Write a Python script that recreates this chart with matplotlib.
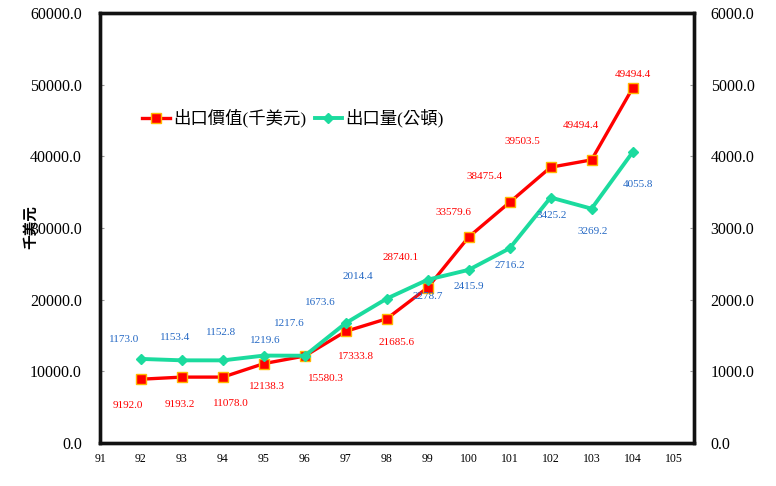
import numpy as np
import matplotlib
matplotlib.use('Agg')
import matplotlib.pyplot as plt

plt.rcParams['font.family'] = ['Liberation Serif', 'Noto Sans CJK TC']

years = [92, 93, 94, 95, 96, 97, 98, 99, 100, 101, 102, 103, 104]

# export value (thousand USD), as drawn
value = [8900, 9192.0, 9193.2, 11078.0, 12138.3, 15580.3, 17333.8,
         21685.6, 28740.1, 33579.6, 38475.4, 39503.5, 49494.4]
# labels as they stand in the picture
value_lab = ['9192.0', '9193.2', '11078.0', '12138.3', '15580.3', '17333.8',
             '21685.6', '28740.1', '33579.6', '38475.4', '39503.5',
             '49494.4', '49494.4']

# export volume (tonnes)
volume = [1173.0, 1153.4, 1152.8, 1219.6, 1217.6, 1673.6, 2014.4,
          2278.7, 2415.9, 2716.2, 3425.2, 3269.2, 4055.8]
volume_lab = ['%.1f' % v for v in volume]

# label offsets in pixels (dx, dy)
red_off = [(-13, -26), (-2, -27), (8, -26), (3, -23), (21, -23), (10, -25),
           (10, -24), (-27, 30), (-15, 25), (-25, 26), (-28, 26), (-11, 34),
           (0, 14)]
grn_off = [(-17, 19), (-7, 23), (-2, 28), (1, 15), (-15, 32), (-25, 21),
           (-29, 22), (0, -17), (0, -17), (0, -17), (1, -18), (1, -23),
           (5, -32)]

red = '#FF0000'
green = '#1BDB9E'
blue = '#2468C4'

fig = plt.figure(figsize=(7.76, 4.86), dpi=100)
ax1 = fig.add_axes([0.1289, 0.0885, 0.7654, 0.8848])
ax2 = ax1.twinx()

l1, = ax1.plot(years, value, color=red, lw=2.4, marker='s', ms=7,
               mfc=red, mec='#FFB800', mew=1, zorder=3,
               label='出口價值(千美元)')
l2, = ax2.plot(years, volume, color=green, lw=2.8, marker='D', ms=5,
               mfc=green, mec=green, zorder=3, label='出口量(公頓)')

for x, y, t, (dx, dy) in zip(years, value, value_lab, red_off):
    ax1.annotate(t, (x, y), xytext=(dx, dy), textcoords='offset pixels',
                 ha='center', va='center', fontsize=8, color=red)
for x, y, t, (dx, dy) in zip(years, volume, volume_lab, grn_off):
    ax2.annotate(t, (x, y), xytext=(dx, dy), textcoords='offset pixels',
                 ha='center', va='center', fontsize=8, color=blue)

ax1.set_xlim(91, 105.5)
ax1.set_ylim(0, 60000)
ax2.set_ylim(0, 6000)
ax1.set_xticks(range(91, 106))
ax1.set_yticks(np.arange(0, 60001, 10000))
ax2.set_yticks(np.arange(0, 6001, 1000))
ax1.set_yticklabels(['%.1f' % v for v in np.arange(0, 60001, 10000)])
ax2.set_yticklabels(['%.1f' % v for v in np.arange(0, 6001, 1000)])

ax1.tick_params(axis='x', length=0, labelsize=8.5, pad=7)
ax1.tick_params(axis='y', direction='in', length=3, color='#999999',
                labelsize=11.5, pad=13)
ax2.tick_params(axis='y', direction='in', length=3, color='#999999',
                labelsize=11.5, pad=12)

for ax in (ax1, ax2):
    for s in ax.spines.values():
        s.set_linewidth(2.4)
        s.set_color('#111111')

fig.text(0.040, 0.533, '千美元', rotation=90, ha='center', va='center',
         fontsize=10.5, fontweight='bold')

ax1.legend([l1, l2], [l1.get_label(), l2.get_label()], ncol=2,
           loc='center left', bbox_to_anchor=(0.045, 0.755), frameon=False,
           fontsize=12.5, handlelength=1.6, handletextpad=0.15,
           columnspacing=0.5)

fig.savefig('out.png', dpi=100)
